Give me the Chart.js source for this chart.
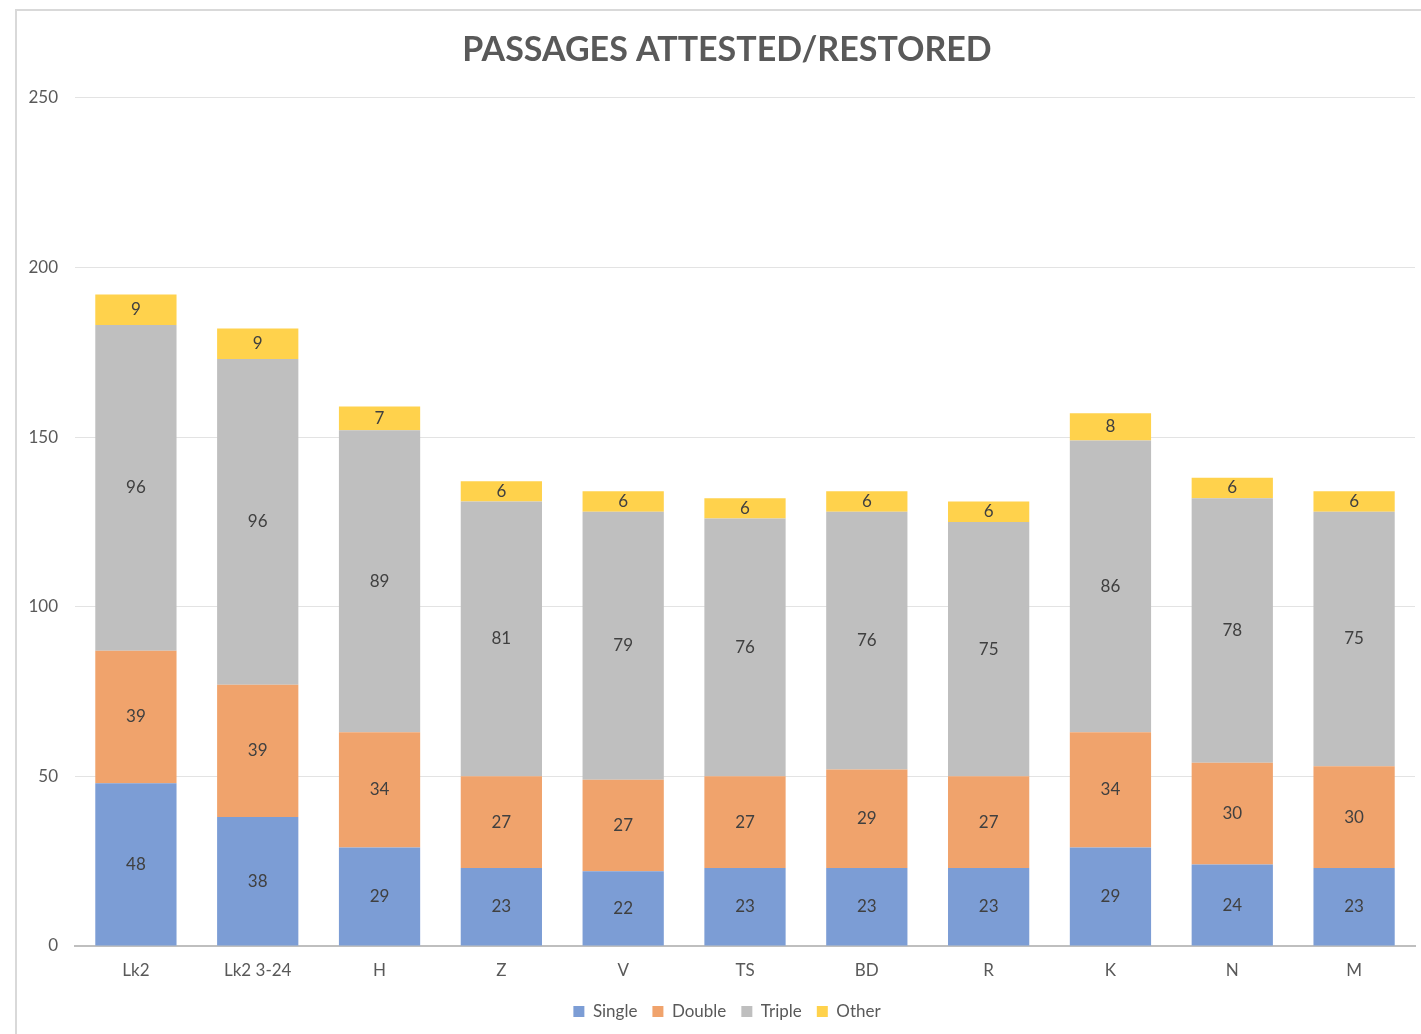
<!DOCTYPE html>
<html>
<head>
<meta charset="utf-8">
<title>Passages attested/restored</title>
<script src="https://cdn.jsdelivr.net/npm/chart.js@4.4.1/dist/chart.umd.min.js"></script>
<style>
  html, body { margin: 0; padding: 0; background: #fff; overflow: hidden; }
  #frame {
    position: absolute; left: 15px; top: 9px;
    width: 1440px; height: 1060px;
    border: 2px solid #d9d9d9;
  }
  #wrap { position: relative; width: 1420px; height: 1023px; }
</style>
</head>
<body>
<div id="frame">
  <div id="wrap"><canvas id="passages"></canvas></div>
</div>
<script>
const manuscripts = ['Lk2', 'Lk2 3-24', 'H', 'Z', 'V', 'TS', 'BD', 'R', 'K', 'N', 'M'];
const single = [48, 38, 29, 23, 22, 23, 23, 23, 29, 24, 23];
const double = [39, 39, 34, 27, 27, 27, 29, 27, 34, 30, 30];
const triple = [96, 96, 89, 81, 79, 76, 76, 75, 86, 78, 75];
const other = [9, 9, 7, 6, 6, 6, 6, 6, 8, 6, 6];
const yTicks = [0, 50, 100, 150, 200, 250];

const FONT = 'Lato, "Open Sans", sans-serif';
const TEXT = '#595959';

// writes each segment's value in the middle of its bar
const segmentLabels = {
  id: 'segmentLabels',
  afterDatasetsDraw (chart) {
    const ctx = chart.ctx;
    ctx.save();
    ctx.font = '17px ' + FONT;
    ctx.fillStyle = '#404040';
    ctx.textAlign = 'center';
    ctx.textBaseline = 'middle';
    chart.data.datasets.forEach((ds, i) => {
      const meta = chart.getDatasetMeta(i);
      meta.data.forEach((bar, j) => {
        const v = ds.data[j];
        ctx.fillText(String(v), bar.x, (bar.y + bar.base) / 2);
      });
    });
    ctx.restore();
  }
};

// eslint-disable-next-line no-undef
const passagesChart = new Chart('passages', {
  type: 'bar',
  data: {
    labels: manuscripts,
    datasets: [
      { label: 'Single', data: single, backgroundColor: '#7c9dd5' },
      { label: 'Double', data: double, backgroundColor: '#f0a36c' },
      { label: 'Triple', data: triple, backgroundColor: '#bfbfbf' },
      { label: 'Other', data: other, backgroundColor: '#ffd24c' }
    ]
  },
  options: {
    responsive: true,
    maintainAspectRatio: false,
    animation: false,
    layout: { padding: { left: 0, right: 0, top: 0, bottom: 4 } },
    datasets: { bar: { categoryPercentage: 0.667, barPercentage: 1 } },
    plugins: {
      title: {
        display: true,
        text: 'PASSAGES ATTESTED/RESTORED',
        color: TEXT,
        font: { family: FONT, size: 34, weight: 'bold' },
        padding: { top: 19, bottom: 27 }
      },
      legend: {
        position: 'bottom',
        labels: {
          color: TEXT,
          font: { family: FONT, size: 17 },
          boxWidth: 11,
          boxHeight: 11,
          padding: 15
        }
      },
      tooltip: { enabled: false }
    },
    scales: {
      x: {
        stacked: true,
        grid: { display: false, drawTicks: false },
        border: { display: true, color: '#bfbfbf', width: 2 },
        ticks: { color: TEXT, font: { family: FONT, size: 17 }, padding: 14 },
        afterFit (scale) { scale.height = 42; }
      },
      y: {
        stacked: true,
        min: 0,
        max: 250,
        afterBuildTicks (scale) { scale.ticks = yTicks.map(value => ({ value })); },
        grid: { color: '#e3e3e3', lineWidth: 1, drawTicks: false },
        border: { display: false },
        ticks: { color: TEXT, font: { family: FONT, size: 17 }, padding: 17 },
        afterFit (scale) { scale.width = 58; }
      },
      // empty margin on the right of the plot
      gutter: {
        type: 'linear',
        position: 'right',
        grid: { display: false, drawTicks: false },
        border: { display: false },
        ticks: { display: false },
        afterFit (scale) { scale.width = 22; }
      }
    }
  },
  plugins: [segmentLabels]
});
</script>
</body>
</html>
